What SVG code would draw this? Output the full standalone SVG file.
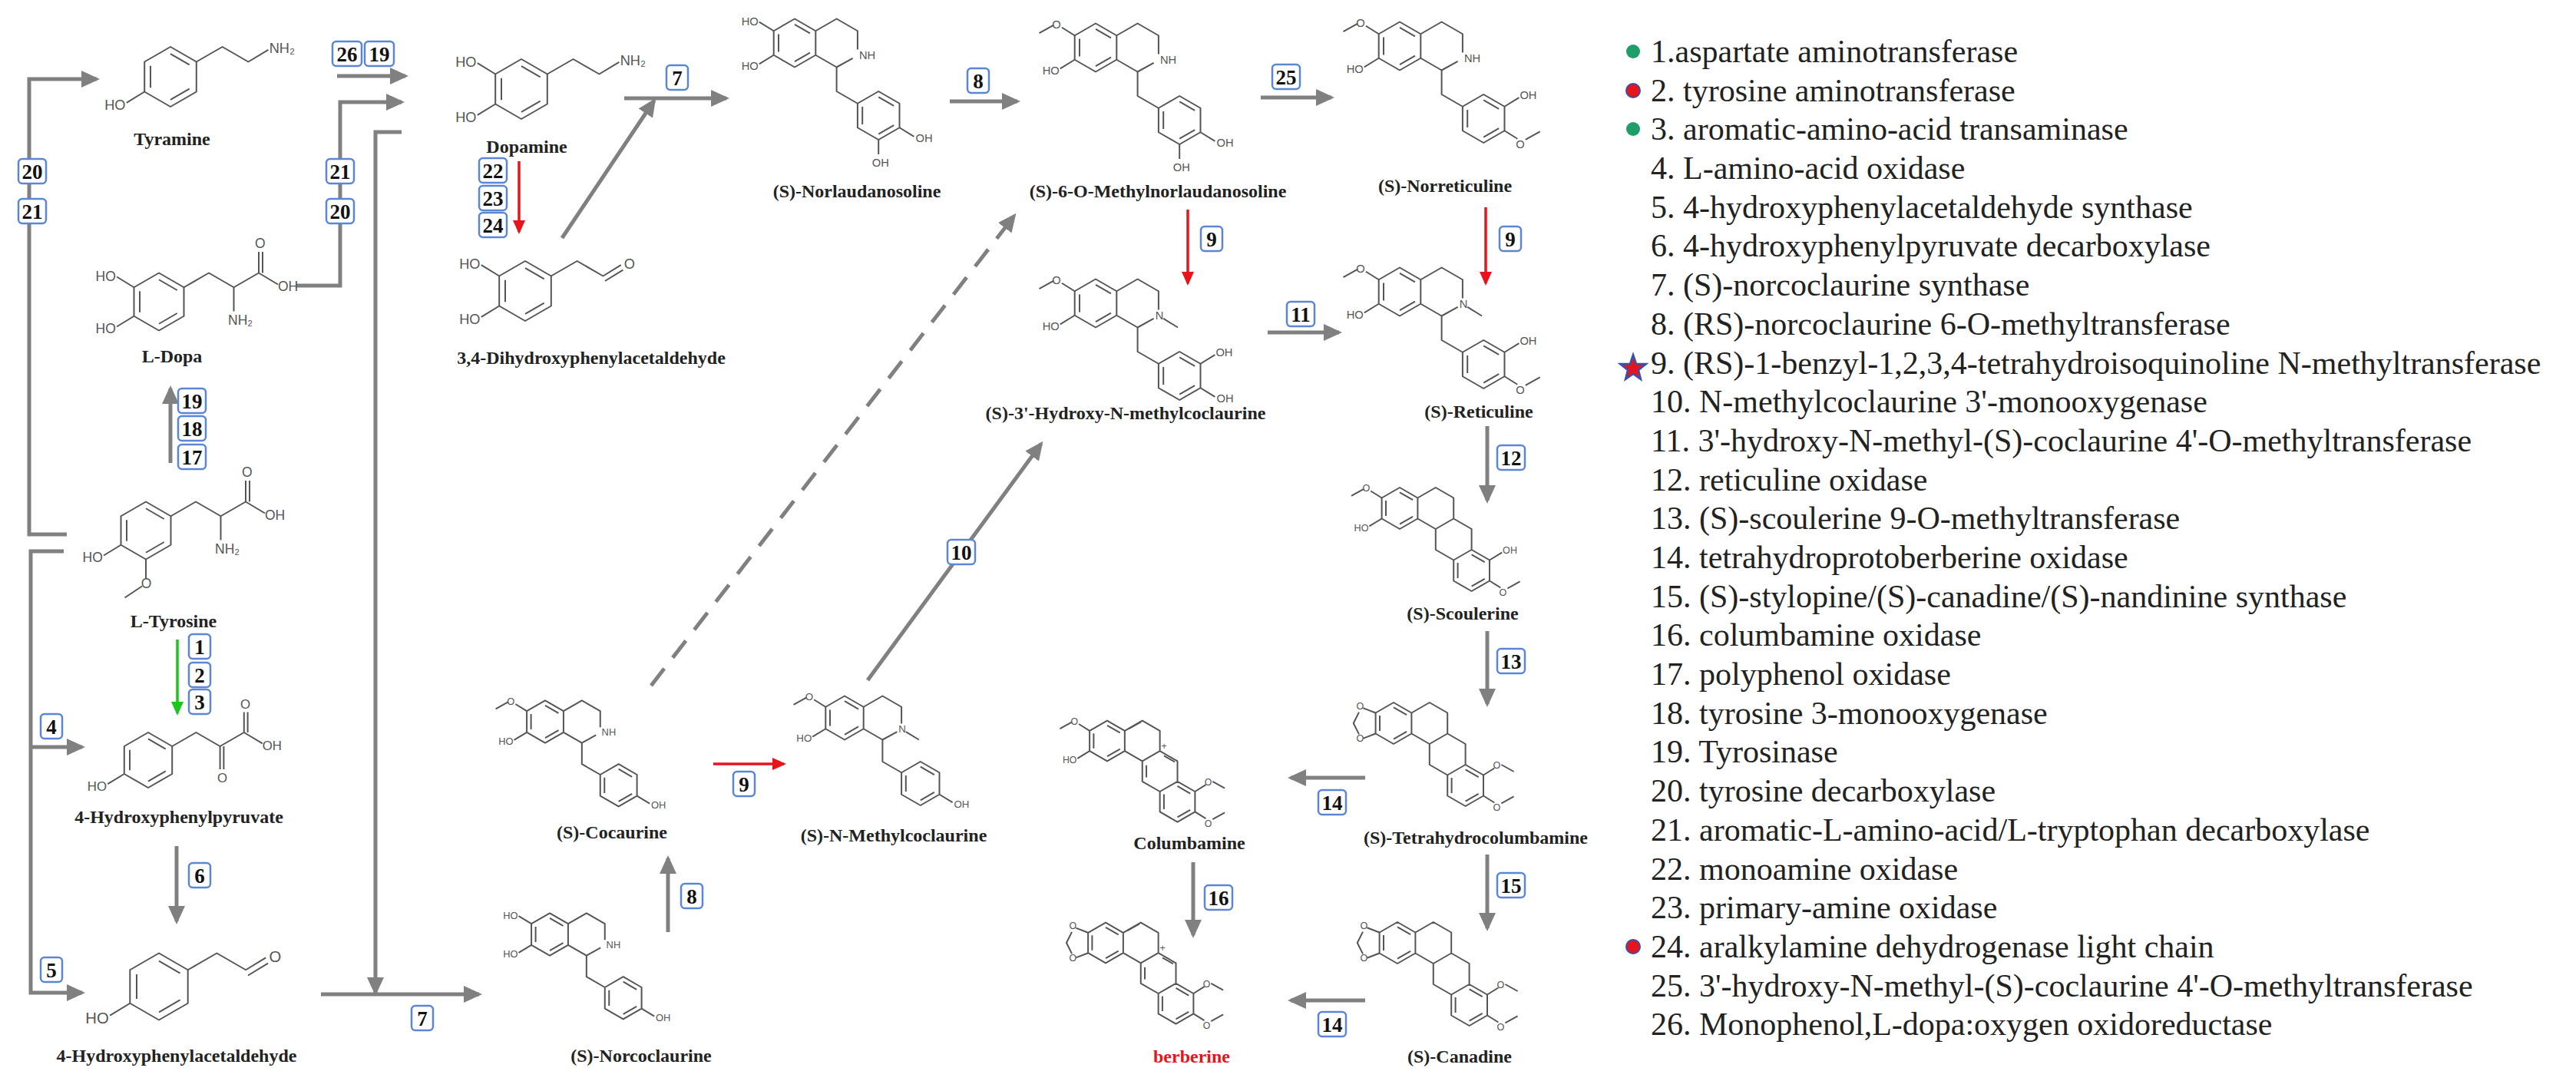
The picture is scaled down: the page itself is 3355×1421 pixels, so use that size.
<svg xmlns="http://www.w3.org/2000/svg" xmlns:xlink="http://www.w3.org/1999/xlink" width="3355" height="1421" viewBox="0 0 3355 1421">
<style>
.b{fill:none;stroke:#555;stroke-width:2;vector-effect:non-scaling-stroke;stroke-linejoin:round}
.at{font-family:"Liberation Sans",Arial,sans-serif;font-size:14px;fill:#555}
.lb{font-family:"Liberation Serif","Times New Roman",serif;font-weight:bold;font-size:24px;fill:#222;text-anchor:middle}
.c{fill:none;stroke:#808080;stroke-width:5}
.cr{fill:none;stroke:#e8141b;stroke-width:3.5}
.cg{fill:none;stroke:#1ec51e;stroke-width:3.5}
.bx rect{fill:#fff;stroke:#5b86d6;stroke-width:2.5}
.bx text{font-family:"Liberation Serif","Times New Roman",serif;font-weight:bold;font-size:27px;fill:#111;text-anchor:middle}
.lg{font-family:"Liberation Serif","Times New Roman",serif;font-size:42px;fill:#222}
</style>
<defs>
<marker id="ag" markerUnits="userSpaceOnUse" markerWidth="24" markerHeight="22" refX="20" refY="11" orient="auto"><path d="M0,0 L24,11 L0,22 Z" fill="#808080"/></marker>
<marker id="ar" markerUnits="userSpaceOnUse" markerWidth="18" markerHeight="16" refX="15" refY="8" orient="auto"><path d="M0,0 L18,8 L0,16 Z" fill="#e8141b"/></marker>
<marker id="agr" markerUnits="userSpaceOnUse" markerWidth="18" markerHeight="16" refX="15" refY="8" orient="auto"><path d="M0,0 L18,8 L0,16 Z" fill="#1ec51e"/></marker>
<path id="ph" class="b" d="M0,-30 L26,-15 L26,15 L0,30 L-26,15 L-26,-15 Z M0,-23 L19,-12 M19,12 L0,23 M-20,11 L-20,-11"/>
<path id="biq" class="b" d="M0,-30 L26,-15 L26,15 L0,30 L-26,15 L-26,-15 Z M0,-23 L19,-12 M19,12 L0,23 M-20,11 L-20,-11 M26,-15 L52,-30 L78,-15 L78,8 M72,19 L52,30 L26,15 M52,30 L52,60 L78,75 M78,75 L104,60 L130,75 L130,105 L104,120 L78,105 Z M104,67 L123,78 M123,102 L104,113 M84,101 L84,79"/>
<path id="pb" class="b" d="M0,-30 L26,-15 L26,15 L0,30 L-26,15 L-26,-15 Z M0,-23 L19,-12 M19,12 L0,23 M-20,11 L-20,-11 M26,-15 L52,-30 L78,-15 L78,15 L52,30 L26,15 M78,15 L104,30 L104,60 L78,75 L52,60 L52,30 M104,60 L130,75 L130,105 L104,120 L78,105 L78,75 M104,67 L123,78 M123,102 L104,113 M84,101 L84,79"/>
</defs>

<g id="connectors">
<path class="c" d="M87,696 L38,696 L38,103 L126,103" marker-end="url(#ag)"/>
<path class="c" d="M439,99 L528,99" marker-end="url(#ag)"/>
<path class="c" d="M385,372 L443,372 L443,133 L523,133" marker-end="url(#ag)"/>
<path class="c" d="M523,172 L489,172 L489,1293" marker-end="url(#ag)"/>
<path class="c" d="M418,1295 L624,1295" marker-end="url(#ag)"/>
<path class="cr" d="M676,210 L676,302" marker-end="url(#ar)"/>
<path class="c" d="M732,310 L852,131" marker-end="url(#ag)"/>
<path class="c" d="M813,128 L946,128" marker-end="url(#ag)"/>
<path class="c" d="M1237,132 L1325,132" marker-end="url(#ag)"/>
<path class="c" d="M1642,127 L1734,127" marker-end="url(#ag)"/>
<path class="cr" d="M1547,273 L1547,369" marker-end="url(#ar)"/>
<path class="c" d="M1651,433 L1744,433" marker-end="url(#ag)"/>
<path class="cr" d="M1935,270 L1935,369" marker-end="url(#ar)"/>
<path class="c" d="M1937,555 L1937,652" marker-end="url(#ag)"/>
<path class="c" d="M1937,822 L1937,917" marker-end="url(#ag)"/>
<path class="c" d="M1778,1013 L1681,1013" marker-end="url(#ag)"/>
<path class="c" d="M1554,1123 L1554,1218" marker-end="url(#ag)"/>
<path class="c" d="M1937,1113 L1937,1209" marker-end="url(#ag)"/>
<path class="c" d="M1778,1303 L1681,1303" marker-end="url(#ag)"/>
<path class="c" d="M1130,886 L1356,578" marker-end="url(#ag)"/>
<path class="c" d="M848,893 L1321,281" stroke-dasharray="28,18" marker-end="url(#ag)"/>
<path class="cr" d="M929,995 L1021,995" marker-end="url(#ar)"/>
<path class="c" d="M870,1214 L870,1118" marker-end="url(#ag)"/>
<path class="c" d="M83,718 L40,718 L40,1293 L107,1293" marker-end="url(#ag)"/>
<path class="c" d="M40,973 L107,973" marker-end="url(#ag)"/>
<path class="c" d="M222,603 L222,506" marker-end="url(#ag)"/>
<path class="cg" d="M231,833 L231,929" marker-end="url(#agr)"/>
<path class="c" d="M230,1102 L230,1200" marker-end="url(#ag)"/>
</g>

<g id="enzyme-labels" class="bx">
<rect x="24" y="207" width="36" height="32" rx="5"/><text x="42" y="233">20</text>
<rect x="24" y="259" width="36" height="32" rx="5"/><text x="42" y="285">21</text>
<rect x="433" y="54" width="38" height="32" rx="5"/><text x="452" y="80">26</text>
<rect x="475" y="54" width="38" height="32" rx="5"/><text x="494" y="80">19</text>
<rect x="425" y="207" width="36" height="32" rx="5"/><text x="443" y="233">21</text>
<rect x="425" y="259" width="36" height="32" rx="5"/><text x="443" y="285">20</text>
<rect x="624" y="206" width="36" height="32" rx="5"/><text x="642" y="232">22</text>
<rect x="624" y="242" width="36" height="32" rx="5"/><text x="642" y="268">23</text>
<rect x="624" y="277" width="36" height="32" rx="5"/><text x="642" y="303">24</text>
<rect x="868" y="85" width="28" height="32" rx="5"/><text x="882" y="111">7</text>
<rect x="1260" y="89" width="28" height="32" rx="5"/><text x="1274" y="115">8</text>
<rect x="1657" y="84" width="36" height="32" rx="5"/><text x="1675" y="110">25</text>
<rect x="1564" y="295" width="28" height="32" rx="5"/><text x="1578" y="321">9</text>
<rect x="1676" y="393" width="36" height="32" rx="5"/><text x="1694" y="419">11</text>
<rect x="1953" y="295" width="28" height="32" rx="5"/><text x="1967" y="321">9</text>
<rect x="1950" y="580" width="36" height="32" rx="5"/><text x="1968" y="606">12</text>
<rect x="1950" y="845" width="36" height="32" rx="5"/><text x="1968" y="871">13</text>
<rect x="1717" y="1029" width="36" height="32" rx="5"/><text x="1735" y="1055">14</text>
<rect x="1569" y="1153" width="36" height="32" rx="5"/><text x="1587" y="1179">16</text>
<rect x="1950" y="1137" width="36" height="32" rx="5"/><text x="1968" y="1163">15</text>
<rect x="1717" y="1318" width="36" height="32" rx="5"/><text x="1735" y="1344">14</text>
<rect x="1234" y="703" width="36" height="32" rx="5"/><text x="1252" y="729">10</text>
<rect x="955" y="1005" width="28" height="32" rx="5"/><text x="969" y="1031">9</text>
<rect x="887" y="1151" width="28" height="32" rx="5"/><text x="901" y="1177">8</text>
<rect x="536" y="1310" width="28" height="32" rx="5"/><text x="550" y="1336">7</text>
<rect x="246" y="1124" width="28" height="32" rx="5"/><text x="260" y="1150">6</text>
<rect x="53" y="930" width="28" height="32" rx="5"/><text x="67" y="956">4</text>
<rect x="53" y="1247" width="28" height="32" rx="5"/><text x="67" y="1273">5</text>
<rect x="246" y="826" width="28" height="32" rx="5"/><text x="260" y="852">1</text>
<rect x="246" y="863" width="28" height="32" rx="5"/><text x="260" y="889">2</text>
<rect x="246" y="898" width="28" height="32" rx="5"/><text x="260" y="924">3</text>
<rect x="232" y="506" width="36" height="32" rx="5"/><text x="250" y="532">19</text>
<rect x="232" y="542" width="36" height="32" rx="5"/><text x="250" y="568">18</text>
<rect x="232" y="579" width="36" height="32" rx="5"/><text x="250" y="605">17</text>
</g>

<g id="tyramine"><g transform="translate(222,100) scale(1.3)"><use href="#ph"/><path class="b" d="M26,-15 L52,-30 L78,-15 L98,-27 M-26,15 L-44,26"/><text class="at" x="99" y="-24">NH₂</text><text class="at" x="-66" y="33">HO</text></g><text class="lb" x="224" y="189">Tyramine</text></g>
<g id="dopamine"><g transform="translate(679,116) scale(1.3)"><use href="#ph"/><path class="b" d="M26,-15 L52,-30 L78,-15 L98,-27 M-26,-15 L-44,-26 M-26,15 L-44,26"/><text class="at" x="99" y="-24">NH₂</text><text class="at" x="-66" y="-22">HO</text><text class="at" x="-66" y="33">HO</text></g><text class="lb" x="686" y="199">Dopamine</text></g>
<g id="dhpa"><g transform="translate(684,379) scale(1.3)"><use href="#ph"/><path class="b" d="M26,-15 L52,-30 L78,-15 L96,-26 M80,-10 L98,-21 M-26,-15 L-44,-26 M-26,15 L-44,26"/><text class="at" x="99" y="-22">O</text><text class="at" x="-66" y="-22">HO</text><text class="at" x="-66" y="33">HO</text></g><text class="lb" x="770" y="474">3,4-Dihydroxyphenylacetaldehyde</text></g>
<g id="ldopa"><g transform="translate(207,393) scale(1.25)"><use href="#ph"/><path class="b" d="M26,-15 L52,-30 L78,-15 L104,-30 L104,-52 M108,-30 L108,-52 M104,-30 L124,-18 M78,-15 L78,10"/><text class="at" x="100" y="-56">O</text><text class="at" x="124" y="-11">OH</text><text class="at" x="72" y="24">NH₂</text><path class="b" d="M-26,-15 L-44,-26 M-26,15 L-44,26"/><text class="at" x="-66" y="-22">HO</text><text class="at" x="-66" y="33">HO</text></g><text class="lb" x="224" y="472">L-Dopa</text></g>
<g id="ltyrosine"><g transform="translate(190,691) scale(1.25)"><use href="#ph"/><path class="b" d="M26,-15 L52,-30 L78,-15 L104,-30 L104,-52 M108,-30 L108,-52 M104,-30 L124,-18 M78,-15 L78,10 M-26,15 L-44,26 M0,30 L0,50 M-4,58 L-22,70"/><text class="at" x="100" y="-56">O</text><text class="at" x="124" y="-11">OH</text><text class="at" x="72" y="24">NH₂</text><text class="at" x="-66" y="33">HO</text><text class="at" x="-5" y="60">O</text></g><text class="lb" x="226" y="817">L-Tyrosine</text></g>
<g id="hpp"><g transform="translate(193,990) scale(1.2)"><use href="#ph"/><path class="b" d="M26,-15 L52,-30 L78,-15 L104,-30 L104,-52 M108,-30 L108,-52 M104,-30 L124,-18 M78,-15 L78,10 M82,-15 L82,10 M-26,15 L-44,26"/><text class="at" x="100" y="-56">O</text><text class="at" x="124" y="-11">OH</text><text class="at" x="75" y="24">O</text><text class="at" x="-66" y="33">HO</text></g><text class="lb" x="233" y="1072">4-Hydroxyphenylpyruvate</text></g>
<g id="hpaa"><g transform="translate(207,1285) scale(1.45)"><use href="#ph"/><path class="b" d="M26,-15 L52,-30 L78,-15 L96,-26 M80,-10 L98,-21 M-26,15 L-44,26"/><text class="at" x="99" y="-22">O</text><text class="at" x="-66" y="33">HO</text></g><text class="lb" x="230" y="1383">4-Hydroxyphenylacetaldehyde</text></g>

<g id="norlaudanosoline"><g transform="translate(1035,56) scale(1.05)"><use href="#biq"/><path class="b" d="M-26,-15 L-44,-26 M-26,15 L-44,26 M130,105 L148,116 M104,120 L104,138"/><text class="at" x="-66" y="-22">HO</text><text class="at" x="-66" y="33">HO</text><text class="at" x="80" y="20">NH</text><text class="at" x="150" y="123">OH</text><text class="at" x="96" y="153">OH</text></g><text class="lb" x="1116" y="257">(S)-Norlaudanosoline</text></g>
<g id="methylnorlaudanosoline"><g transform="translate(1427,62) scale(1.05)"><use href="#biq"/><path class="b" d="M-26,-15 L-42,-25 M-52,-28 L-70,-18 M-26,15 L-44,26 M130,105 L148,116 M104,120 L104,138"/><text class="at" x="-54" y="-24">O</text><text class="at" x="-66" y="33">HO</text><text class="at" x="80" y="20">NH</text><text class="at" x="150" y="123">OH</text><text class="at" x="96" y="153">OH</text></g><text class="lb" x="1508" y="257">(S)-6-O-Methylnorlaudanosoline</text></g>
<g id="norreticuline"><g transform="translate(1823,60) scale(1.05)"><use href="#biq"/><path class="b" d="M-26,-15 L-42,-25 M-52,-28 L-70,-18 M-26,15 L-44,26 M130,75 L148,64 M130,105 L146,115 M156,116 L174,106"/><text class="at" x="-54" y="-24">O</text><text class="at" x="-66" y="33">HO</text><text class="at" x="80" y="20">NH</text><text class="at" x="149" y="66">OH</text><text class="at" x="144" y="127">O</text></g><text class="lb" x="1882" y="250">(S)-Norreticuline</text></g>
<g id="reticuline"><g transform="translate(1823,380) scale(1.05)"><use href="#biq"/><path class="b" d="M-26,-15 L-42,-25 M-52,-28 L-70,-18 M-26,15 L-44,26 M130,75 L148,64 M130,105 L146,115 M156,116 L174,106 M84,19 L102,30"/><text class="at" x="-54" y="-24">O</text><text class="at" x="-66" y="33">HO</text><text class="at" x="74" y="20">N</text><text class="at" x="149" y="66">OH</text><text class="at" x="144" y="127">O</text></g><text class="lb" x="1926" y="544">(S)-Reticuline</text></g>
<g id="hydroxymethylcoclaurine"><g transform="translate(1427,395) scale(1.05)"><use href="#biq"/><path class="b" d="M-26,-15 L-42,-25 M-52,-28 L-70,-18 M-26,15 L-44,26 M130,75 L148,64 M130,105 L148,116 M84,19 L102,30"/><text class="at" x="-54" y="-24">O</text><text class="at" x="-66" y="33">HO</text><text class="at" x="74" y="20">N</text><text class="at" x="149" y="66">OH</text><text class="at" x="150" y="123">OH</text></g><text class="lb" x="1466" y="546">(S)-3'-Hydroxy-N-methylcoclaurine</text></g>
<g id="cocaurine"><g transform="translate(710,940) scale(0.92)"><use href="#biq"/><path class="b" d="M-26,-15 L-42,-25 M-52,-28 L-70,-18 M-26,15 L-44,26 M130,105 L148,116"/><text class="at" x="-54" y="-24">O</text><text class="at" x="-66" y="33">HO</text><text class="at" x="80" y="20">NH</text><text class="at" x="150" y="123">OH</text></g><text class="lb" x="797" y="1092">(S)-Cocaurine</text></g>
<g id="norcoclaurine"><g transform="translate(716,1217) scale(0.92)"><use href="#biq"/><path class="b" d="M-26,-15 L-44,-26 M-26,15 L-44,26 M130,105 L148,116"/><text class="at" x="-66" y="-22">HO</text><text class="at" x="-66" y="33">HO</text><text class="at" x="80" y="20">NH</text><text class="at" x="150" y="123">OH</text></g><text class="lb" x="835" y="1383">(S)-Norcoclaurine</text></g>
<g id="nmethylcoclaurine"><g transform="translate(1100,935) scale(0.95)"><use href="#biq"/><path class="b" d="M-26,-15 L-42,-25 M-52,-28 L-70,-18 M-26,15 L-44,26 M130,105 L148,116 M84,19 L102,30"/><text class="at" x="-54" y="-24">O</text><text class="at" x="-66" y="33">HO</text><text class="at" x="74" y="20">N</text><text class="at" x="150" y="123">OH</text></g><text class="lb" x="1164" y="1096">(S)-N-Methylcoclaurine</text></g>

<g id="scoulerine"><g transform="translate(1823,662) scale(0.9)"><use href="#pb"/><path class="b" d="M-26,-15 L-42,-25 M-52,-28 L-70,-18 M-26,15 L-44,26 M130,75 L148,64 M130,105 L146,115 M156,116 L174,106"/><text class="at" x="-54" y="-24">O</text><text class="at" x="-66" y="33">HO</text><text class="at" x="149" y="66">OH</text><text class="at" x="144" y="127">O</text></g><text class="lb" x="1905" y="807">(S)-Scoulerine</text></g>
<g id="tetrahydrocolumbamine"><g transform="translate(1815,942) scale(0.9)"><use href="#pb"/><path class="b" d="M-26,-15 L-44,-22 M-50,-16 L-58,0 L-50,16 M-44,22 L-26,15 M130,75 L146,65 M156,60 L174,70 M130,105 L146,115 M156,116 L174,106"/><text class="at" x="-54" y="-20">O</text><text class="at" x="-54" y="27">O</text><text class="at" x="144" y="66">O</text><text class="at" x="144" y="127">O</text></g><text class="lb" x="1922" y="1099">(S)-Tetrahydrocolumbamine</text></g>
<g id="canadine"><g transform="translate(1820,1228) scale(0.9)"><use href="#pb"/><path class="b" d="M-26,-15 L-44,-22 M-50,-16 L-58,0 L-50,16 M-44,22 L-26,15 M130,75 L146,65 M156,60 L174,70 M130,105 L146,115 M156,116 L174,106"/><text class="at" x="-54" y="-20">O</text><text class="at" x="-54" y="27">O</text><text class="at" x="144" y="66">O</text><text class="at" x="144" y="127">O</text></g><text class="lb" x="1901" y="1384">(S)-Canadine</text></g>
<g id="columbamine"><g transform="translate(1442,965) scale(0.88)"><use href="#pb"/><path class="b" d="M32,-18 L50,-28 M58,36 L58,54 M84,22 L100,31 M-26,-15 L-42,-25 M-52,-28 L-70,-18 M-26,15 L-44,26 M130,75 L146,65 M156,60 L174,70 M130,105 L146,115 M156,116 L174,106"/><text class="at" x="-54" y="-24">O</text><text class="at" x="-66" y="33">HO</text><text class="at" x="80" y="12">+</text><text class="at" x="144" y="66">O</text><text class="at" x="144" y="127">O</text></g><text class="lb" x="1549" y="1106">Columbamine</text></g>
<g id="berberine"><g transform="translate(1440,1228) scale(0.88)"><use href="#pb"/><path class="b" d="M32,-18 L50,-28 M58,36 L58,54 M84,22 L100,31 M-26,-15 L-44,-22 M-50,-16 L-58,0 L-50,16 M-44,22 L-26,15 M130,75 L146,65 M156,60 L174,70 M130,105 L146,115 M156,116 L174,106"/><text class="at" x="-54" y="-20">O</text><text class="at" x="-54" y="27">O</text><text class="at" x="80" y="12">+</text><text class="at" x="144" y="66">O</text><text class="at" x="144" y="127">O</text></g><text class="lb" x="1552" y="1384" style="fill:#e8141b">berberine</text></g>

<g id="legend">
<circle cx="2127" cy="67" r="9" fill="#1f9e6a"/>
<circle cx="2127" cy="118" r="9" fill="#e8141b" stroke="#3a4fb0" stroke-width="2"/>
<circle cx="2127" cy="168" r="9" fill="#1f9e6a"/>
<polygon points="2127,462 2131,474 2144,474 2134,482 2137,494 2127,487 2117,494 2120,482 2110,474 2123,474" fill="#e8141b" stroke="#3a4fb0" stroke-width="2.5"/>
<circle cx="2127" cy="1233" r="9" fill="#e8141b" stroke="#3a4fb0" stroke-width="2"/>
<text class="lg" x="2150" y="81">1.aspartate aminotransferase</text>
<text class="lg" x="2150" y="132">2. tyrosine aminotransferase</text>
<text class="lg" x="2150" y="182">3. aromatic-amino-acid transaminase</text>
<text class="lg" x="2150" y="233">4. L-amino-acid oxidase</text>
<text class="lg" x="2150" y="284">5. 4-hydroxyphenylacetaldehyde synthase</text>
<text class="lg" x="2150" y="334">6. 4-hydroxyphenylpyruvate decarboxylase</text>
<text class="lg" x="2150" y="385">7. (S)-norcoclaurine synthase</text>
<text class="lg" x="2150" y="436">8. (RS)-norcoclaurine 6-O-methyltransferase</text>
<text class="lg" x="2150" y="487">9. (RS)-1-benzyl-1,2,3,4-tetrahydroisoquinoline N-methyltransferase</text>
<text class="lg" x="2150" y="537">10. N-methylcoclaurine 3'-monooxygenase</text>
<text class="lg" x="2150" y="588">11. 3'-hydroxy-N-methyl-(S)-coclaurine 4'-O-methyltransferase</text>
<text class="lg" x="2150" y="639">12. reticuline oxidase</text>
<text class="lg" x="2150" y="689">13. (S)-scoulerine 9-O-methyltransferase</text>
<text class="lg" x="2150" y="740">14. tetrahydroprotoberberine oxidase</text>
<text class="lg" x="2150" y="791">15. (S)-stylopine/(S)-canadine/(S)-nandinine synthase</text>
<text class="lg" x="2150" y="841">16. columbamine oxidase</text>
<text class="lg" x="2150" y="892">17. polyphenol oxidase</text>
<text class="lg" x="2150" y="943">18. tyrosine 3-monooxygenase</text>
<text class="lg" x="2150" y="993">19. Tyrosinase</text>
<text class="lg" x="2150" y="1044">20. tyrosine decarboxylase</text>
<text class="lg" x="2150" y="1095">21. aromatic-L-amino-acid/L-tryptophan decarboxylase</text>
<text class="lg" x="2150" y="1146">22. monoamine oxidase</text>
<text class="lg" x="2150" y="1196">23. primary-amine oxidase</text>
<text class="lg" x="2150" y="1247">24. aralkylamine dehydrogenase light chain</text>
<text class="lg" x="2150" y="1298">25. 3'-hydroxy-N-methyl-(S)-coclaurine 4'-O-methyltransferase</text>
<text class="lg" x="2150" y="1348">26. Monophenol,L-dopa:oxygen oxidoreductase</text>
</g>
</svg>
